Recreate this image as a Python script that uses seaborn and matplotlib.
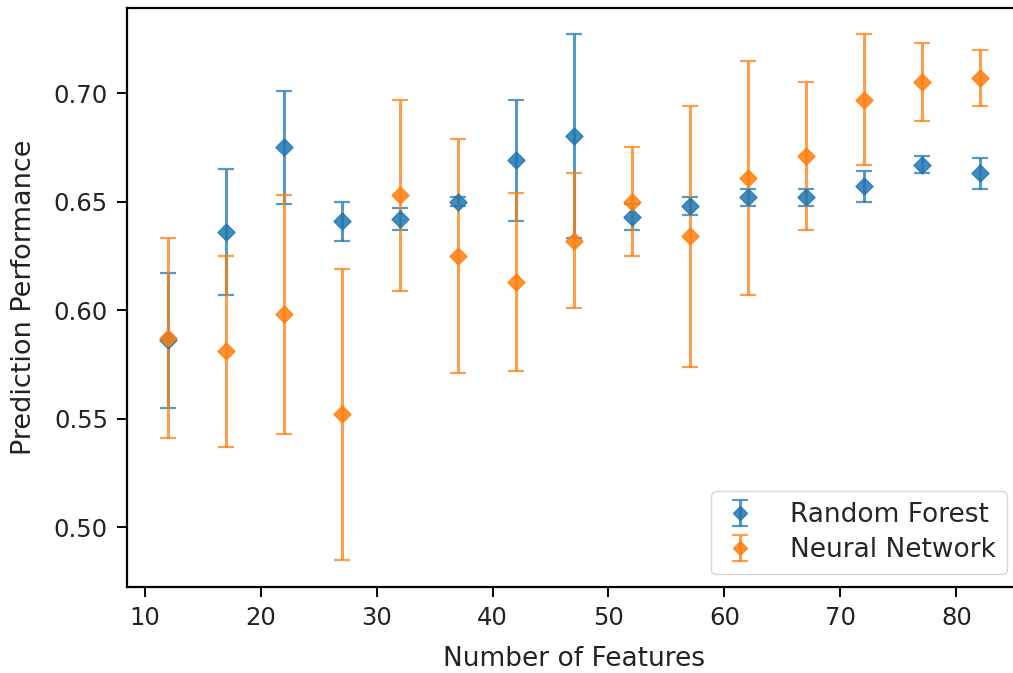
import numpy as np
import matplotlib
matplotlib.use("Agg")
import matplotlib.pyplot as plt
import seaborn as sns
from matplotlib.legend_handler import HandlerTuple

# Number of input features evaluated
n_features = [12, 17, 22, 27, 32, 37, 42, 47, 52, 57, 62, 67, 72, 77, 82]

# Random Forest: mean performance and error
rf_mean = [0.586, 0.636, 0.675, 0.641, 0.642, 0.650, 0.669, 0.680, 0.643, 0.648, 0.652, 0.652, 0.657, 0.667, 0.663]
rf_err = [0.031, 0.029, 0.026, 0.009, 0.005, 0.002, 0.028, 0.047, 0.006, 0.004, 0.004, 0.004, 0.007, 0.004, 0.007]

# Neural Network: mean performance and error
nn_mean = [0.587, 0.581, 0.598, 0.552, 0.653, 0.625, 0.613, 0.632, 0.650, 0.634, 0.661, 0.671, 0.697, 0.705, 0.707]
nn_err = [0.046, 0.044, 0.055, 0.067, 0.044, 0.054, 0.041, 0.031, 0.025, 0.060, 0.054, 0.034, 0.030, 0.018, 0.013]

series_names = ["Random Forest", "Neural Network"]

sns.set_style("ticks")
plt.rcParams["font.family"] = ["DejaVu Sans"]

palette = sns.color_palette("tab10", 2)

fig = plt.figure(figsize=(10.13, 6.73), dpi=100)
ax = fig.add_axes([0.1257, 0.1278, 0.8813, 0.8603])

handles = []
for name, mean, err, color in zip(series_names, [rf_mean, nn_mean], [rf_err, nn_err], palette):
    eb = ax.errorbar(n_features, mean, yerr=err, fmt="none", ecolor=color,
                     elinewidth=2.2, capsize=6, capthick=1.6, alpha=0.75)
    sns.scatterplot(x=np.asarray(n_features), y=np.asarray(mean), ax=ax,
                    marker="D", s=75, color=color, edgecolor=color,
                    linewidth=1, alpha=0.85, legend=False, zorder=3)
    mk = plt.Line2D([], [], linestyle="none", marker="D", markersize=7,
                    color=color, alpha=0.85)
    handles.append((eb, mk))

ax.set_xlim(8.5, 85.5)
ax.set_ylim(0.4724, 0.7392)
ax.set_xticks([10, 20, 30, 40, 50, 60, 70, 80])
ax.set_yticks([0.50, 0.55, 0.60, 0.65, 0.70])
ax.yaxis.set_major_formatter(matplotlib.ticker.FormatStrFormatter("%.2f"))

for side in ["top", "right", "bottom", "left"]:
    ax.spines[side].set_visible(True)
    ax.spines[side].set_linewidth(1.6)
    ax.spines[side].set_color("black")

ax.tick_params(axis="both", which="major", length=7, width=1.4, labelsize=17.5,
               color="black", labelcolor="#222222", pad=7, direction="out")
ax.set_xlabel("Number of Features", fontsize=19, color="#222222", labelpad=11)
ax.set_ylabel("Prediction Performance", fontsize=19.5, color="#222222", labelpad=12)

ax.legend(handles, series_names, loc="lower right", fontsize=19,
          handler_map={tuple: HandlerTuple(ndivide=1)},
          frameon=True, framealpha=0.8, edgecolor="#cccccc", fancybox=True,
          borderpad=0.4, handletextpad=1.2, handlelength=1.4, labelspacing=0.35,
          borderaxespad=0.5)

fig.savefig("out.png", dpi=100, facecolor="white")
